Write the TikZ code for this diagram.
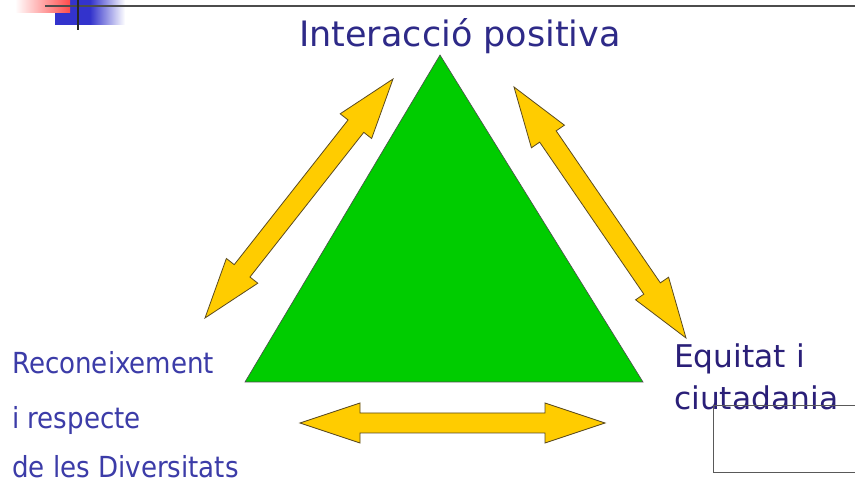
\documentclass[tikz,border=0pt]{standalone}
\usepackage{fontspec}
\setmainfont{DejaVu Sans}
\newfontfamily\leftfont{DejaVu Sans Condensed}
\usetikzlibrary{calc}
\definecolor{tri}{HTML}{00CC00}
\definecolor{arr}{HTML}{FFCC00}
\definecolor{arredge}{HTML}{5A4A20}
\definecolor{navy}{HTML}{2E2A88}
\definecolor{navyr}{HTML}{2A1F78}
\definecolor{lblue}{HTML}{3C3CA8}
\definecolor{dblue}{HTML}{3333CC}
\tikzset{
  arrowshape/.style={fill=arr,draw=arredge,line width=0.8pt,line join=miter},
  lbl/.style={inner sep=0pt,anchor=base west},
  lefttext/.style={lbl,text=lblue,font=\leftfont\fontsize{29}{34}\selectfont},
  righttext/.style={lbl,text=navyr,font=\fontsize{31.3}{37}\selectfont},
}
\newcommand{\dblarrow}[2]{%
  \draw[arrowshape] (#1)
   -- ($(#1)!60pt!(#2)!20pt!90:(#2)$)
   -- ($(#1)!60pt!(#2)!10pt!90:(#2)$)
   -- ($(#2)!60pt!(#1)!10pt!-90:(#1)$)
   -- ($(#2)!60pt!(#1)!20pt!-90:(#1)$)
   -- (#2)
   -- ($(#2)!60pt!(#1)!20pt!90:(#1)$)
   -- ($(#2)!60pt!(#1)!10pt!90:(#1)$)
   -- ($(#1)!60pt!(#2)!10pt!-90:(#2)$)
   -- ($(#1)!60pt!(#2)!20pt!-90:(#2)$)
   -- cycle;}
\begin{document}
\begin{tikzpicture}[x=1pt,y=-1pt]
\useasboundingbox[fill=white] (0,0) rectangle (855,486);
% top-left decoration
\shade[left color=dblue,right color=white,middle color=dblue] (55,0) rectangle (125,25);
\shade[left color=white,right color=red!70] (15,0) rectangle (70,13);
\draw[line width=2pt,draw=black!70] (45,6) -- (855,6);
\draw[line width=2pt,draw=black!85] (78,0) -- (78,30);
% triangle
\coordinate (apex) at (440,55);
\coordinate (bl) at (245,382);
\coordinate (br) at (643,382);
\draw[fill=tri,draw=black!70,line width=0.6pt] (apex) -- (bl) -- (br) -- cycle;
% arrows
\coordinate (la) at (205,318);
\coordinate (lb) at (393,79);
\coordinate (ra) at (514,87);
\coordinate (rb) at (686,338);
\coordinate (ba) at (300,423);
\coordinate (bb) at (605,423);
\dblarrow{la}{lb}
\dblarrow{ra}{rb}
\dblarrow{ba}{bb}
% texts
\node[inner sep=0pt,anchor=base,text=navy,font=\fontsize{35}{40}\selectfont] (top) at (460,47) {Interacció positiva};
\node[righttext] (eq1) at (674,368) {Equitat i};
\node[righttext] (eq2) at (674,410) {ciutadania};
\node[lefttext] (r1) at (12,374) {Reconeixement};
\node[lefttext] (r2) at (12,429) {i respecte};
\node[lefttext] (r3) at (12,478) {de les Diversitats};
% box lines
\coordinate (b1) at (855,405);
\coordinate (b2) at (713,405);
\coordinate (b3) at (713,472);
\coordinate (b4) at (855,472);
\draw[draw=black!65,line width=0.8pt] (b1) -- (b2) -- (b3) -- (b4);
\end{tikzpicture}
\end{document}
